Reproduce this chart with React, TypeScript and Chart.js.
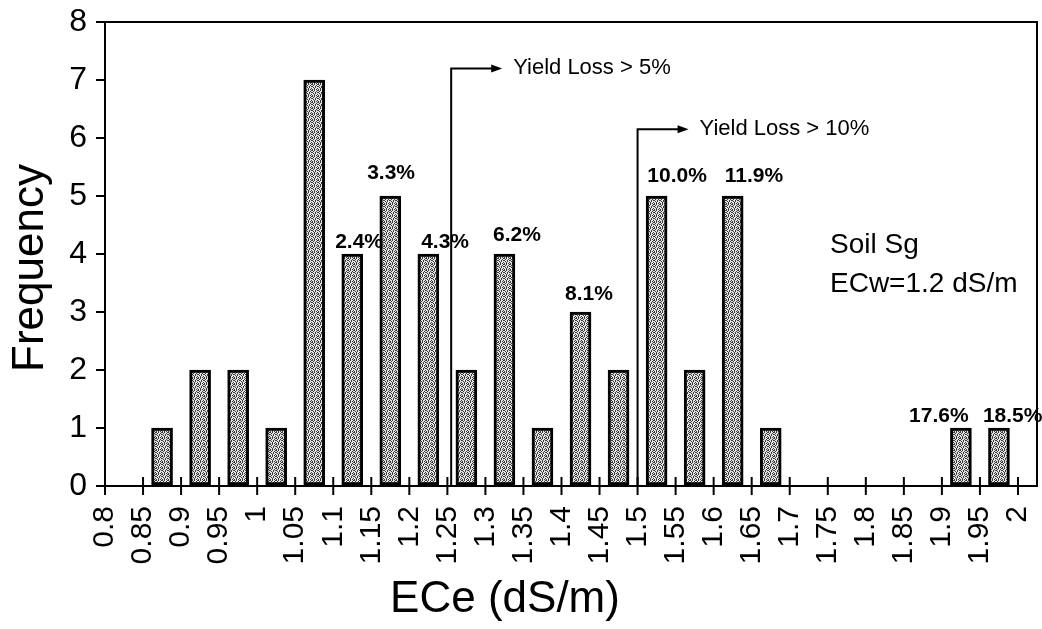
import React, { useEffect, useRef } from "react";
import { Chart, registerables } from "chart.js";

Chart.register(...registerables);

// ---- data ----
const xTickValues = [0.8, 0.85, 0.9, 0.95, 1, 1.05, 1.1, 1.15, 1.2, 1.25, 1.3, 1.35, 1.4, 1.45, 1.5, 1.55, 1.6, 1.65, 1.7, 1.75, 1.8, 1.85, 1.9, 1.95, 2];
const xTickLabels = ["0.8", "0.85", "0.9", "0.95", "1", "1.05", "1.1", "1.15", "1.2", "1.25", "1.3", "1.35", "1.4", "1.45", "1.5", "1.55", "1.6", "1.65", "1.7", "1.75", "1.8", "1.85", "1.9", "1.95", "2"];
const binCenters = [0.875, 0.925, 0.975, 1.025, 1.075, 1.125, 1.175, 1.225, 1.275, 1.325, 1.375, 1.425, 1.475, 1.525, 1.575, 1.625, 1.675, 1.925, 1.975];
const frequencies = [1, 2, 2, 1, 7, 4, 5, 4, 2, 4, 1, 3, 2, 5, 2, 5, 1, 1, 1];

const pctLabels = ["2.4%", "3.3%", "4.3%", "6.2%", "8.1%", "10.0%", "11.9%", "17.6%", "18.5%"];
const pctX = [1.134, 1.176, 1.247, 1.3415, 1.436, 1.552, 1.653, 1.896, 1.993];
const pctY = [4.21, 5.39, 4.21, 4.32, 3.3, 5.34, 5.34, 1.2, 1.2];

const thresholdX = [1.255, 1.5];
const thresholdTop = [7.2, 6.15];
const thresholdText = ["Yield Loss > 5%", "Yield Loss > 10%"];

const noteLines = ["Soil Sg", "ECw=1.2 dS/m"];
const xTitle = "ECe (dS/m)";
const yTitle = "Frequency";

const FONT = "'Liberation Sans', Arial, sans-serif";

function makePattern(): CanvasPattern | string {
  const rows = ["x.x..x", ".x..x.", "x..x.x", ".x.x..", "..x..x", "x.x.x."];
  const c = document.createElement("canvas");
  c.width = 6;
  c.height = 6;
  const g = c.getContext("2d");
  if (!g) return "#999";
  for (let r = 0; r < 6; r++) {
    for (let k = 0; k < 6; k++) {
      g.fillStyle = rows[r][k] === "x" ? "#3a3a3a" : "#e4e4e4";
      g.fillRect(k, r, 1, 1);
    }
  }
  const p = g.createPattern(c, "repeat");
  return p || "#999";
}

const overlayPlugin = {
  id: "overlay",
  afterDraw(chart: any) {
    const ctx = chart.ctx as CanvasRenderingContext2D;
    const xs = chart.scales.x;
    const ys = chart.scales.y;
    const area = chart.chartArea;
    ctx.save();
    ctx.strokeStyle = "#000";
    ctx.fillStyle = "#000";

    // frame top & right
    ctx.lineWidth = 2;
    ctx.beginPath();
    ctx.moveTo(area.left - 8, area.top);
    ctx.lineTo(area.right, area.top);
    ctx.lineTo(area.right, area.bottom);
    ctx.stroke();

    // x ticks crossing axis
    ctx.lineWidth = 2;
    for (const v of xTickValues) {
      const px = xs.getPixelForValue(v);
      ctx.beginPath();
      ctx.moveTo(px, area.bottom - 9);
      ctx.lineTo(px, area.bottom + 9);
      ctx.stroke();
    }

    // percent labels
    ctx.font = `bold 21px ${FONT}`;
    ctx.textAlign = "center";
    ctx.textBaseline = "middle";
    pctLabels.forEach((t, i) => {
      ctx.fillText(t, xs.getPixelForValue(pctX[i]), ys.getPixelForValue(pctY[i]));
    });

    // threshold arrows
    ctx.font = `22px ${FONT}`;
    ctx.textAlign = "left";
    thresholdX.forEach((tx, i) => {
      const px = xs.getPixelForValue(tx);
      const py = ys.getPixelForValue(thresholdTop[i]);
      ctx.lineWidth = 2;
      ctx.beginPath();
      ctx.moveTo(px, area.bottom);
      ctx.lineTo(px, py);
      ctx.lineTo(px + 42, py);
      ctx.stroke();
      ctx.beginPath();
      ctx.moveTo(px + 51, py);
      ctx.lineTo(px + 40, py - 4);
      ctx.lineTo(px + 40, py + 4);
      ctx.closePath();
      ctx.fill();
      ctx.fillText(thresholdText[i], px + 62, py);
    });

    // note
    ctx.font = `28px ${FONT}`;
    ctx.fillText(noteLines[0], 830, 245);
    ctx.fillText(noteLines[1], 830, 284);

    // axis titles
    ctx.font = `44px ${FONT}`;
    ctx.textAlign = "center";
    ctx.fillText(xTitle, 505, 600);
    ctx.save();
    ctx.translate(31, 268);
    ctx.rotate(-Math.PI / 2);
    ctx.font = `44px ${FONT}`;
    ctx.fillText(yTitle, 0, 0);
    ctx.restore();

    ctx.restore();
  },
};

export default function App() {
  const ref = useRef<HTMLCanvasElement | null>(null);

  useEffect(() => {
    if (!ref.current) return;
    const pattern = makePattern();
    const chart = new Chart(ref.current, {
      type: "bar",
      data: {
        datasets: [
          {
            data: binCenters.map((x, i) => ({ x, y: frequencies[i] })),
            backgroundColor: pattern as any,
            borderColor: "#000",
            borderWidth: 3,
            borderSkipped: false,
            barThickness: 21,
          },
        ],
      },
      options: {
        animation: false,
        responsive: false,
        layout: { padding: { top: 22, right: 5, left: 0, bottom: 0 } },
        plugins: {
          legend: { display: false },
          tooltip: { enabled: false },
          title: { display: false },
        },
        scales: {
          x: {
            type: "linear",
            min: 0.8,
            max: 2.025,
            offset: false,
            grid: { display: false, drawTicks: false, offset: false },
            border: { display: true, color: "#000", width: 2 },
            afterBuildTicks: (scale: any) => {
              scale.ticks = xTickValues.map((v) => ({ value: v }));
            },
            afterFit: (scale: any) => {
              scale.height = 143;
              scale.paddingLeft = 0;
              scale.paddingRight = 0;
            },
            ticks: {
              autoSkip: false,
              maxRotation: 90,
              minRotation: 90,
              padding: 20,
              color: "#000",
              font: { family: FONT, size: 30 },
              callback: (_v: any, i: number) => xTickLabels[i],
            },
          },
          y: {
            min: 0,
            max: 8,
            grid: { display: true, drawOnChartArea: false, drawTicks: true, tickLength: 9, color: "#000", lineWidth: 2 },
            border: { display: true, color: "#000", width: 2 },
            afterFit: (scale: any) => {
              scale.width = 105;
              scale.paddingTop = 0;
              scale.paddingBottom = 0;
            },
            ticks: {
              stepSize: 1,
              padding: 9,
              color: "#000",
              font: { family: FONT, size: 32 },
            },
          },
        },
      },
      plugins: [overlayPlugin],
    });
    return () => chart.destroy();
  }, []);

  return (
    <div style={{ position: "absolute", left: 0, top: 0, width: 1042, height: 629, background: "#fff" }}>
      <canvas ref={ref} width={1042} height={629} style={{ display: "block" }} />
    </div>
  );
}
